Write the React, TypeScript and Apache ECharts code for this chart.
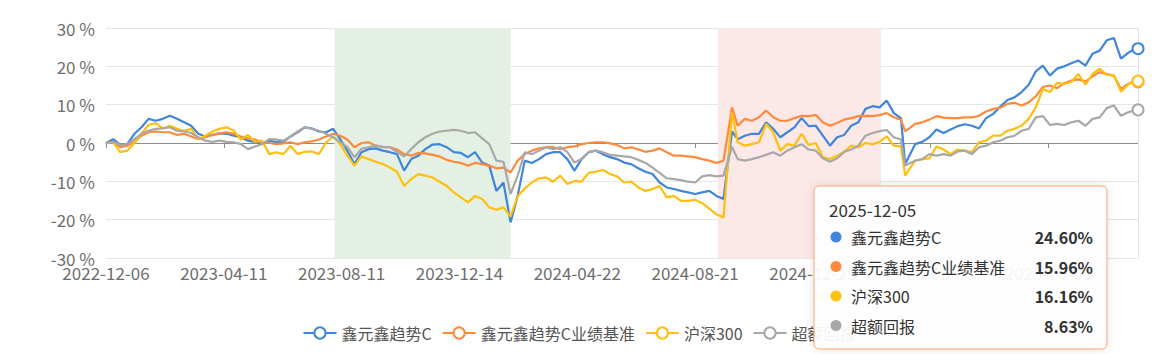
import React, { useEffect, useRef } from "react";
import * as echarts from "echarts";

// ---------- data ----------
const FIRST_DAY = "2022-12-06";
const LAST_DAY = "2025-12-05";

// weekday market closures (China A-share)
const HOLIDAYS = [
  "2023-01-02", "2023-01-23", "2023-01-24", "2023-01-25", "2023-01-26", "2023-01-27",
  "2023-04-05", "2023-05-01", "2023-05-02", "2023-05-03", "2023-06-22", "2023-06-23",
  "2023-09-29", "2023-10-02", "2023-10-03", "2023-10-04", "2023-10-05", "2023-10-06",
  "2024-01-01", "2024-02-09", "2024-02-12", "2024-02-13", "2024-02-14", "2024-02-15", "2024-02-16",
  "2024-04-04", "2024-04-05", "2024-05-01", "2024-05-02", "2024-05-03", "2024-06-10",
  "2024-09-16", "2024-09-17", "2024-10-01", "2024-10-02", "2024-10-03", "2024-10-04", "2024-10-07",
  "2025-01-01", "2025-01-28", "2025-01-29", "2025-01-30", "2025-01-31", "2025-02-03", "2025-02-04",
  "2025-04-04", "2025-05-01", "2025-05-02", "2025-05-05", "2025-06-02",
  "2025-10-01", "2025-10-02", "2025-10-03", "2025-10-06", "2025-10-07", "2025-10-08",
];

const TICK_LABELS = [
  "2022-12-06", "2023-04-11", "2023-08-11", "2023-12-14", "2024-04-22",
  "2024-08-21", "2024-12-25", "2025-05-06", "2025-09-01",
];

// values are read every 5 trading days; two samples sit on the extreme days
const SAMPLE_STEP = 5;
const SHIFTED_SAMPLES: Record<number, string> = { 88: "2024-09-30", 113: "2025-04-07" };

const SERIES_NAMES = ["鑫元鑫趋势C", "鑫元鑫趋势C业绩基准", "沪深300", "超额回报"];

const fund = [
  0, 1.0, -0.5, -0.3, 2.4, 4.1, 6.3, 5.8, 6.3, 7.1, 6.3, 5.4, 4.5, 2.4, 1.7, 2.1, 2.5, 2.4, 1.9, 1.5,
  0.6, 0.2, 0, 0.6, 0.2, 0.3, 1.7, 2.8, 4.1, 3.8, 3.0, 2.8, 3.7, 1.0, -2.0, -5.5, -2.4,
  -1.6, -1.4, -2.0, -2.4, -2.9, -7.2, -4.2, -3.3, -1.6, -0.4, -0.3, -1.1, -2.4, -2.6, -3.7, -2.4, -5.1,
  -5.9, -12.5, -10.3, -20.7, -13.8, -4.6, -5.2, -4.2, -2.9, -2.4, -2.4, -4.2, -7.2, -4.2, -2.4, -2.0,
  -2.9, -3.7, -4.2, -5.1,
  -5.5, -6.6, -7.5, -8.1, -10.3, -11.6, -12.0, -12.5, -12.9, -13.3, -12.9, -12.5, -13.8, -14.6, 3.0,
  1.0, 1.9, 2.4, 2.4, 5.4, 3.7, 1.5, 2.8, 4.1, 6.5, 4.4, 4.5, 1.9, -0.7, 1.5, 2.1, 4.5, 5.4, 8.9, 9.6,
  9.3, 11.1,
  7.8, 6.5, -5.5, -0.3, 0.3, 1.5, 3.5, 2.6, 3.5, 4.4, 4.9, 4.5, 3.8, 6.5, 7.6, 9.5, 11.2, 11.9, 13.3,
  15.2, 18.7, 20.2, 17.6, 19.4, 20.0, 20.8, 21.5, 20.2, 23.3, 24.1, 26.8, 27.4, 22.0, 23.5, 24.6, 24.6,
];

const benchmark = [
  0, 0.3, -1.1, -0.7, 0.3, 1.9, 2.8, 3.0, 2.8, 2.8, 2.1, 2.4, 1.7, 1.0, 1.5, 2.1, 2.5, 2.8, 2.4, 1.7,
  1.2, 0.9, 0.2, 0, -0.3, -0.1, 0.2, -0.3, 0.2, 0.4, 0.9, 1.7, 2.4, 1.9, 0.9, -1.1, 0,
  0.2, -0.7, -1.0, -1.1, -1.7, -2.9, -3.3, -2.6, -2.7, -3.1, -3.5, -4.4, -4.9, -5.2, -5.9, -5.2, -5.5,
  -5.9, -6.6, -6.4, -7.7, -4.6, -2.9, -2.0, -1.4, -1.1, -1.1, -1.6, -1.1, -0.9, -0.3, 0, 0.2, 0.2,
  -0.1, -0.5, -1.4,
  -1.1, -1.7, -2.3, -2.0, -1.4, -2.4, -3.3, -3.3, -3.5, -3.7, -4.2, -4.6, -5.2, -4.6, 9.3, 4.5, 6.3,
  5.8, 6.7, 8.5, 6.7, 5.8, 5.8, 6.5, 7.1, 7.0, 7.3, 5.4, 4.5, 5.2, 6.1, 6.5, 7.0, 7.1, 7.0, 7.3, 7.8,
  6.7, 6.1, 3.0, 5.0, 5.4, 6.1, 7.0, 6.6, 6.5, 6.5, 6.7, 6.7, 7.1, 8.2, 8.9, 9.2, 10.2, 10.5, 9.8,
  10.6, 12.2, 14.6, 15.0, 14.3, 15.6, 16.3, 16.6, 16.0, 17.4, 18.5, 18.0, 17.6, 14.1, 15.4, 16.2, 15.96,
];

const csi300 = [
  0, 0.2, -2.4, -2.0, 0, 2.4, 4.7, 5.2, 3.8, 4.5, 3.7, 3.2, 3.7, 1.0, 1.9, 3.0, 3.7, 4.1, 3.2, 0.9,
  2.1, 0.3, 0.6, -2.9, -2.4, -2.9, -0.7, -2.9, -2.3, -2.2, -2.9, 0.2, 1.7, -0.3, -3.3, -5.9, -3.5,
  -4.2, -4.9, -5.5, -6.4, -7.5, -11.2, -9.4, -8.1, -8.5, -9.0, -10.1, -11.2, -12.9, -14.2, -15.5,
  -13.8, -14.6, -16.8, -17.4, -16.8, -19.2, -13.8, -11.9, -10.3, -9.2, -9.0, -10.1, -8.5, -10.7, -9.9,
  -10.1, -7.8, -7.5, -7.0, -8.1, -8.7, -10.3,
  -10.1, -11.6, -12.5, -12.0, -11.2, -14.2, -13.8, -15.1, -15.1, -14.8, -15.7, -17.1, -18.6, -19.4,
  8.0, 0.2, -0.7, -0.3, 0.2, 5.0, 2.8, -2.0, -0.3, -0.7, 2.4, -0.5, 0, -3.7, -4.2, -3.3, -2.3, -0.7,
  -1.1, 0, -0.3, 0.3, 1.7,
  -0.7, -0.9, -8.5, -4.6, -4.2, -4.0, -0.9, -1.7, -2.9, -1.7, -2.0, -2.4, 0.2, 0.6, 1.9, 1.9, 3.2,
  3.7, 4.5, 6.3, 9.3, 14.1, 13.3, 15.7, 15.4, 15.9, 18.0, 15.2, 18.0, 19.4, 17.8, 17.6, 13.4, 15.2,
  16.5, 16.16,
];

const excess = [
  0, 0.3, -0.5, -0.3, 1.0, 2.4, 3.2, 3.7, 3.8, 4.1, 3.2, 3.0, 2.6, 1.5, 0.6, 0.3, 0.6, 0.3, 0.2, -0.3,
  -1.6, -0.9, -0.3, 1.0, 0.9, 0.6, 1.7, 3.0, 4.1, 3.7, 3.2, 2.4, 1.5, 0.3, -1.1, -3.7, -1.5,
  -1.1, -0.7, -1.1, -1.1, -2.3, -3.5, -1.6, 0.2, 1.5, 2.4, 3.0, 3.2, 3.4, 3.2, 2.6, 2.8, 1.2, -0.3,
  -4.6, -4.9, -13.3, -8.5, -2.4, -2.9, -2.0, -1.1, -1.6, -1.1, -2.4, -5.1, -4.2, -2.4, -2.0, -2.4,
  -3.1, -3.3, -3.5,
  -3.7, -4.4, -5.2, -6.4, -7.8, -9.2, -9.4, -9.7, -10.1, -10.3, -8.7, -8.4, -8.7, -8.5, -1.0, -4.2,
  -4.6, -4.2, -3.7, -3.1, -2.4, -3.3, -2.0, -1.1, -0.3, -1.7, -2.0, -4.0, -4.9, -4.0, -2.3, -1.7,
  -0.7, 1.9, 2.6, 3.1, 3.4,
  1.5, 0.9, -5.9, -4.6, -4.2, -2.9, -3.3, -2.9, -3.3, -2.2, -2.0, -2.9, -1.1, -0.7, 0.2, 0.6, 1.5,
  1.9, 3.2, 3.7, 6.7, 7.0, 4.7, 5.0, 4.7, 5.4, 5.8, 4.5, 6.3, 6.7, 9.1, 9.8, 7.1, 8.0, 8.6, 8.63,
];

const GREEN_PERIOD = ["2023-08-04", "2024-02-05"];
const RED_PERIOD = ["2024-09-12", "2025-03-12"];

const Y_MIN = -30;
const Y_MAX = 30;
const Y_STEP = 10;

// ---------- styling ----------
const COLORS = ["#3f86dc", "#ff8a3d", "#ffbf0f", "#a8a8a8"];
const FONT = "'Microsoft YaHei', 'Noto Sans CJK SC', sans-serif";
const TIP_Z = 200;

function tradingDays(): string[] {
  const closed = new Set(HOLIDAYS);
  const out: string[] = [];
  const [y0, m0, d0] = FIRST_DAY.split("-").map(Number);
  const [y1, m1, d1] = LAST_DAY.split("-").map(Number);
  const cur = new Date(Date.UTC(y0, m0 - 1, d0));
  const end = Date.UTC(y1, m1 - 1, d1);
  while (cur.getTime() <= end) {
    const wd = cur.getUTCDay();
    const s = cur.toISOString().slice(0, 10);
    if (wd !== 0 && wd !== 6 && !closed.has(s)) out.push(s);
    cur.setUTCDate(cur.getUTCDate() + 1);
  }
  return out;
}

export default function App() {
  const ref = useRef<HTMLDivElement>(null);

  useEffect(() => {
    document.body.style.margin = "0";
    if (!ref.current) return;
    const chart = echarts.init(ref.current, undefined, { renderer: "svg" });

    const dates = tradingDays();
    const lastIdx = dates.length - 1;
    const labelSet = new Set(TICK_LABELS);
    const sampleIndex = fund.map((_, i) => {
      const shifted = SHIFTED_SAMPLES[i];
      if (shifted) {
        const k = dates.indexOf(shifted);
        if (k >= 0) return k;
      }
      return Math.min(i * SAMPLE_STEP, lastIdx);
    });

    const all = [fund, benchmark, csi300, excess];

    const series: any[] = all.map((vals, k) => ({
      name: SERIES_NAMES[k],
      type: "line",
      symbol: "emptyCircle",
      symbolSize: 10,
      showSymbol: false,
      smooth: false,
      lineStyle: { width: 2.2, color: COLORS[k] },
      itemStyle: { color: COLORS[k], borderWidth: 2 },
      data: vals.map((v, i) => [sampleIndex[i], v]),
      markPoint: {
        silent: true,
        symbol: "circle",
        symbolSize: 11,
        label: { show: false },
        itemStyle: { color: "#fff", borderColor: COLORS[k], borderWidth: 2 },
        data: [{ coord: [lastIdx, vals[vals.length - 1]] }],
      },
    }));

    series[0].markArea = {
      silent: true,
      data: [
        [{ xAxis: GREEN_PERIOD[0], itemStyle: { color: "#e5f0e4" } }, { xAxis: GREEN_PERIOD[1] }],
        [{ xAxis: RED_PERIOD[0], itemStyle: { color: "#fde8e8" } }, { xAxis: RED_PERIOD[1] }],
      ],
    };
    series[0].markLine = {
      silent: true,
      symbol: ["none", "none"],
      label: { show: false },
      lineStyle: { color: "#e2e2e2", width: 1, type: "solid" },
      data: [{ xAxis: lastIdx }],
    };

    const ox = 814;
    const oy = 186;
    const tipRows = all.map((vals, k) => {
      const y = oy + 51 + k * 29.5;
      return [
        {
          type: "circle",
          z: TIP_Z + 1,
          shape: { cx: ox + 22, cy: y, r: 5.5 },
          style: { fill: COLORS[k] },
        },
        {
          type: "text",
          z: TIP_Z + 1,
          x: ox + 37,
          y,
          style: {
            text: SERIES_NAMES[k],
            fontSize: 16,
            fontFamily: FONT,
            fill: "#333",
            verticalAlign: "middle",
          },
        },
        {
          type: "text",
          z: TIP_Z + 1,
          x: ox + 279,
          y,
          style: {
            text: vals[vals.length - 1].toFixed(2) + "%",
            fontSize: 16,
            fontWeight: "bold",
            fontFamily: FONT,
            fill: "#333",
            align: "right",
            verticalAlign: "middle",
          },
        },
      ];
    });

    chart.setOption({
      animation: false,
      textStyle: { fontFamily: FONT },
      grid: { left: 106, right: 20, top: 28, bottom: 96, containLabel: false },
      xAxis: {
        type: "category",
        data: dates,
        boundaryGap: false,
        axisLine: { lineStyle: { color: "#8c8c8c", width: 1 } },
        axisTick: {
          length: 5,
          lineStyle: { color: "#8c8c8c" },
          interval: (idx: number, val: string) => labelSet.has(val) || idx === lastIdx,
        },
        axisLabel: {
          fontSize: 17,
          color: "#6e6e6e",
          margin: 6,
          interval: (_idx: number, val: string) => labelSet.has(val),
        },
        splitLine: { show: false },
      },
      yAxis: {
        type: "value",
        min: Y_MIN,
        max: Y_MAX,
        interval: Y_STEP,
        axisLine: { show: false },
        axisTick: { show: false },
        axisLabel: { fontSize: 17, color: "#6e6e6e", margin: 11, formatter: "{value} %" },
        splitLine: { lineStyle: { color: "#e6e6e6", width: 1 } },
      },
      legend: {
        data: SERIES_NAMES,
        left: "center",
        top: 320,
        itemGap: 10,
        itemWidth: 33,
        itemHeight: 14,
        textStyle: { fontSize: 16, color: "#555", fontFamily: FONT },
      },
      series,
      graphic: [
        {
          type: "rect",
          z: TIP_Z,
          shape: { x: ox, y: oy, width: 293, height: 163, r: 5 },
          style: {
            fill: "rgba(255,255,255,0.93)",
            stroke: "#f6a66e",
            lineWidth: 1,
            shadowBlur: 10,
            shadowColor: "rgba(0,0,0,0.12)",
          },
        },
        {
          type: "text",
          z: TIP_Z + 1,
          x: ox + 15,
          y: oy + 23,
          style: {
            text: LAST_DAY,
            fontSize: 17,
            fontFamily: FONT,
            fill: "#333",
            verticalAlign: "middle",
          },
        },
        ...tipRows.flat(),
      ],
    });

    return () => chart.dispose();
  }, []);

  return <div ref={ref} style={{ width: 1158, height: 354 }} />;
}
